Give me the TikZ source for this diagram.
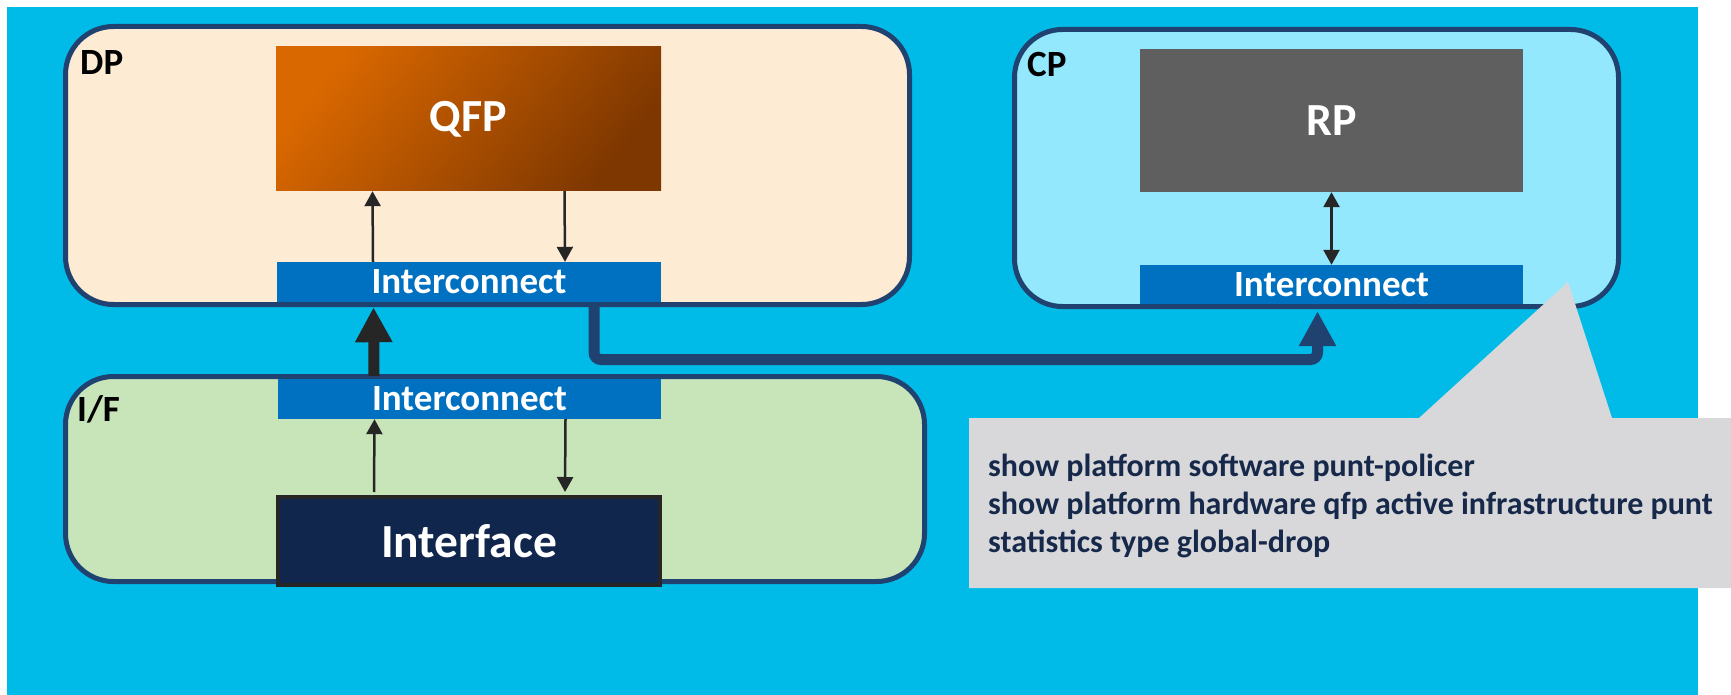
\documentclass[tikz,border=0pt]{standalone}
\usepackage{fontspec}
\setmainfont{Carlito}
\usetikzlibrary{arrows.meta,calc}
\definecolor{bgblue}{HTML}{00BBE8}
\definecolor{dpfill}{HTML}{FDEBD4}
\definecolor{cpfill}{HTML}{93E8FE}
\definecolor{iffill}{HTML}{C8E5B9}
\definecolor{panelline}{HTML}{1F4270}
\definecolor{qfpA}{HTML}{DA6800}
\definecolor{qfpB}{HTML}{7E3700}
\definecolor{rpgray}{HTML}{5F5F5F}
\definecolor{icblue}{HTML}{0070C0}
\definecolor{ifnavy}{HTML}{10264D}
\definecolor{arrowgray}{HTML}{262626}
\definecolor{calloutgray}{HTML}{D8D8DA}
\definecolor{cmdnavy}{HTML}{17294A}
\begin{document}
\begin{tikzpicture}[x=1pt,y=-1pt,
  panel/.style={draw=panelline, line width=5pt, rounded corners=48pt, inner sep=0pt},
  chip/.style={inner sep=0pt, text=white, font=\bfseries\fontsize{46}{50}\selectfont},
  link/.style={fill=icblue, inner sep=0pt, text=white, font=\bfseries\fontsize{37}{40}\selectfont},
  tag/.style={anchor=base west, inner sep=0pt, font=\bfseries\fontsize{37}{40}\selectfont},
  flow/.style={draw=arrowgray, line width=2.5pt, -{Triangle[length=15pt,width=16pt]}},
  twoway/.style={draw=arrowgray, line width=2.5pt, {Triangle[length=15pt,width=16pt]}-{Triangle[length=15pt,width=16pt]}},
  bigup/.style={draw=arrowgray, line width=11pt, -{Triangle[length=35pt,width=35pt]}},
  punt/.style={draw=panelline, line width=11pt, rounded corners=7pt, -{Triangle[length=35pt,width=35pt]}},
  cmd/.style={anchor=base west, align=left, inner sep=0pt, text=cmdnavy, font=\bfseries\fontsize{32}{38}\selectfont}
]
\useasboundingbox (0,0) rectangle (1731,695);
\fill[white] (0,0) rectangle (1731,695);
\fill[bgblue] (7,7) rectangle (1698,695);

% planes
\node[panel, fill=dpfill, minimum width=844pt, minimum height=278pt] (dp) at (487.5,165.5) {};
\node[panel, fill=cpfill, minimum width=604pt, minimum height=277pt] (cp) at (1316.5,168) {};
\node[panel, fill=iffill, minimum width=859pt, minimum height=205pt] (if) at (495,479) {};

\node[tag] (dplabel) at (80,75) {DP};
\node[tag] (cplabel) at (1027,77) {CP};
\node[tag] (iflabel) at (77,421) {I/F};

% processors and links
\node[chip, top color=qfpA, bottom color=qfpB, shading angle=52, minimum width=385pt, minimum height=144pt] (qfp) at (468.5,119) {QFP};
\node[chip, fill=rpgray, minimum width=383pt, minimum height=143pt] (rp) at (1331.5,120.5) {RP};
\node[link, minimum width=384pt, minimum height=40pt] (icdp) at (469,282) {Interconnect};
\node[link, minimum width=383pt, minimum height=39pt] (iccp) at (1331.5,284.5) {Interconnect};
\node[link, minimum width=383pt, minimum height=40pt] (icif) at (469.5,399) {Interconnect};
\node[chip, fill=ifnavy, draw=arrowgray, line width=4pt, minimum width=382pt, minimum height=88pt, font=\bfseries\fontsize{47.5}{50}\selectfont] (port) at (469,541) {Interface};

% traffic inside the planes
\draw[flow] ([xshift=-96pt]icdp.north) -- ([xshift=-96pt]qfp.south);
\draw[flow] ([xshift=96pt]qfp.south) -- ([xshift=96pt]icdp.north);
\draw[twoway] (rp.south) -- (iccp.north);
\draw[flow] ([xshift=-95pt,yshift=3pt]port.north) -- ([xshift=-95pt]icif.south);
\draw[flow] ([xshift=96pt]icif.south) -- ([xshift=96pt,yshift=3pt]port.north);

% interface plane up to data plane
\draw[bigup] ([xshift=-95.5pt,yshift=3pt]icif.north) -- ([xshift=-95.5pt,yshift=-5pt]icdp.south);

% punt path to the control plane
\coordinate (puntstart) at ([xshift=125pt]icdp.south);
\coordinate (puntrow) at (0,359.5);
\coordinate (cpentry) at ([xshift=-14pt,yshift=-7pt]iccp.south);
\draw[punt] (puntstart) -- (puntstart |- puntrow) -| (cpentry);

% command callout
\fill[calloutgray] (969,418) -- (1419,418) -- (1568,282) -- (1612,418) -- (1731,418) -- (1731,588) -- (969,588) -- cycle;
\node[cmd] (cmds) at (988,552) {show platform software punt-policer\\show platform hardware qfp active infrastructure punt\\statistics type global-drop};
\end{tikzpicture}
\end{document}
